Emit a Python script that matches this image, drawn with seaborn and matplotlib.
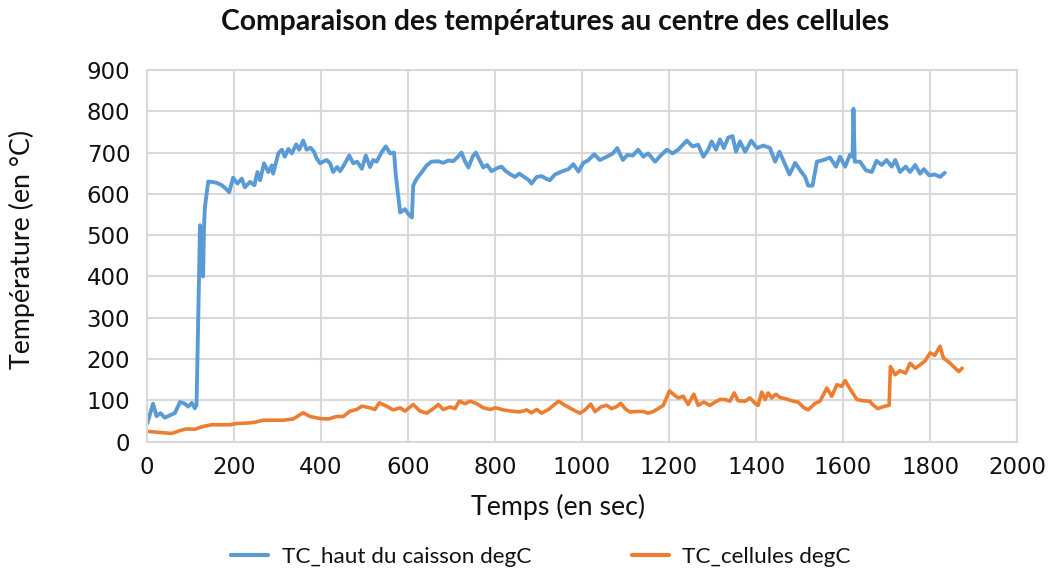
import matplotlib
matplotlib.use("Agg")
import matplotlib.pyplot as plt
import seaborn as sns

# Temps (s) et températures (°C) relevés au thermocouple du haut du caisson
haut_t = [1, 14, 22, 31, 41, 57, 64, 76, 87, 95, 103, 110, 114, 122, 125, 129, 131,
          133, 137, 141, 149, 160, 172, 182, 189, 198, 208, 218, 225, 237, 247, 254,
          260, 269, 279, 287, 290, 302, 310, 317, 325, 333, 343, 350, 359, 367, 376,
          384, 390, 398, 405, 413, 421, 428, 437, 444, 453, 465, 474, 483, 494, 503,
          513, 520, 528, 540, 549, 559, 568, 572, 582, 593, 601, 609, 612, 620, 632,
          643, 654, 670, 681, 693, 704, 713, 723, 731, 739, 749, 756, 764, 773, 782,
          792, 804, 815, 825, 836, 846, 856, 867, 878, 884, 896, 907, 917, 926, 938,
          953, 969, 980, 992, 1003, 1014, 1028, 1041, 1057, 1071, 1081, 1094, 1104,
          1117, 1129, 1141, 1152, 1168, 1181, 1195, 1208, 1221, 1241, 1254, 1267,
          1279, 1290, 1298, 1308, 1317, 1326, 1336, 1346, 1354, 1363, 1375, 1389,
          1402, 1417, 1432, 1444, 1454, 1464, 1477, 1490, 1501, 1513, 1520, 1530,
          1540, 1555, 1570, 1584, 1593, 1605, 1616, 1622, 1624, 1627, 1639, 1653,
          1666, 1677, 1689, 1700, 1712, 1720, 1731, 1744, 1754, 1766, 1777, 1786,
          1798, 1811, 1823, 1834]
haut_v = [45, 92, 62, 69, 58, 66, 69, 96, 92, 85, 94, 81, 90, 524, 500, 400, 515,
          565, 600, 630, 629, 627, 621, 612, 604, 639, 625, 637, 616, 629, 621, 653,
          633, 674, 653, 669, 649, 698, 707, 690, 709, 698, 720, 707, 729, 707, 712,
          702, 686, 674, 678, 682, 674, 653, 665, 655, 670, 693, 674, 678, 661, 693,
          665, 682, 678, 702, 715, 698, 700, 645, 555, 563, 551, 543, 620, 637, 653,
          669, 678, 679, 675, 681, 679, 688, 700, 679, 664, 691, 700, 683, 664, 670,
          655, 662, 666, 655, 647, 641, 649, 641, 633, 625, 641, 643, 637, 633, 647,
          654, 660, 672, 654, 675, 681, 696, 682, 690, 698, 711, 682, 694,
          693, 707, 690, 698, 678, 693, 707, 698, 707, 729, 715, 719,
          690, 707, 727, 707, 732, 711, 736, 740, 702, 727, 702, 729,
          711, 717, 711, 678, 702, 678, 647, 675, 658, 641, 620, 620,
          678, 682, 688, 666, 690, 666, 695, 690, 806, 678, 678, 657,
          653, 680, 670, 682, 666, 682, 653, 666, 653, 670, 649, 660,
          645, 647, 641, 651]

# Température au centre des cellules
cell_t = [1, 22, 45, 57, 76, 91, 110, 129, 149, 172, 191, 206, 229, 248, 267, 290,
          313, 336, 359, 375, 398, 417, 436, 451, 467, 482, 494, 513, 524, 534, 551,
          566, 582, 593, 612, 628, 643, 658, 670, 681, 697, 708, 718, 731, 743, 758,
          773, 789, 802, 819, 838, 857, 873, 884, 896, 907, 923, 946, 961, 980, 995,
          1007, 1020, 1030, 1045, 1057, 1068, 1080, 1089, 1099, 1110, 1126, 1141,
          1152, 1164, 1175, 1187, 1201, 1210, 1221, 1233, 1244, 1257, 1267, 1280,
          1294, 1306, 1317, 1329, 1340, 1350, 1359, 1375, 1386, 1398, 1405, 1413,
          1421, 1428, 1436, 1446, 1455, 1471, 1486, 1497, 1509, 1520, 1536, 1547,
          1563, 1574, 1586, 1597, 1605, 1616, 1632, 1647, 1662, 1668, 1680, 1693,
          1706, 1709, 1720, 1731, 1744, 1754, 1766, 1777, 1789, 1800, 1811, 1823,
          1831, 1842, 1854, 1866, 1874]
cell_v = [25, 23, 21, 20, 27, 31, 30, 37, 41, 41, 41, 44, 45, 47, 52, 52,
          52, 55, 70, 61, 56, 55, 61, 61, 74, 78, 86, 82, 78, 94, 86,
          77, 82, 74, 90, 74, 69, 80, 90, 78, 84, 80, 98, 92, 98, 92,
          82, 78, 82, 77, 74, 72, 77, 70, 78, 69, 78, 98, 88, 77, 69,
          77, 91, 73, 85, 88, 80, 85, 93, 80, 72, 73, 73,
          69, 73, 80, 88, 123, 115, 106, 110, 90, 115, 88, 96,
          88, 96, 102, 102, 98, 118, 99, 98, 106, 93, 88, 120,
          102, 118, 106, 115, 107, 103, 98, 96, 83, 77, 93, 98,
          130, 110, 138, 134, 148, 128, 102, 99, 98, 90, 80, 85,
          88, 182, 162, 172, 166, 190, 178, 186, 196, 215, 209, 231,
          202, 194, 182, 170, 178]

x_ticks = list(range(0, 2001, 200))
y_ticks = list(range(0, 901, 100))

title = "Comparaison des températures au centre des cellules"
label_haut = "TC_haut du caisson degC"
label_cell = "TC_cellules degC"

sns.set_style("whitegrid")
plt.rcParams["font.family"] = ["DejaVu Sans"]

grid_col = "#d9d9d9"
text_col = "#111111"
fig = plt.figure(figsize=(10.55, 5.77), dpi=100)
ax = fig.add_axes([0.1393, 0.2345, 0.8247, 0.6442])

sns.lineplot(x=haut_t, y=haut_v, ax=ax, color="#5B9BD5", linewidth=2.8,
             sort=False, estimator=None, label=label_haut)
sns.lineplot(x=cell_t, y=cell_v, ax=ax, color="#ED7D31", linewidth=2.6,
             sort=False, estimator=None, label=label_cell)

ax.set_xlim(0, 2000)
ax.set_ylim(0, 900)
ax.set_xticks(x_ticks)
ax.set_yticks(y_ticks)
ax.set_xticklabels([str(v) for v in x_ticks])
ax.set_yticklabels([str(v) for v in y_ticks])
ax.tick_params(axis="both", length=0, labelsize=16.5, colors=text_col)
ax.tick_params(axis="y", pad=12)
ax.tick_params(axis="x", pad=10)
ax.grid(True, color=grid_col, linewidth=1.5)
for sp in ax.spines.values():
    sp.set_color(grid_col)
    sp.set_linewidth(1.5)

ax.set_xlabel("Temps (en sec)", fontsize=19.3, family=["Lato", "DejaVu Sans"],
              color=text_col)
ax.xaxis.set_label_coords(0.472, -0.176)
ax.xaxis.label.set_va("center")
ax.set_ylabel("Température (en °C)", fontsize=19.3, family=["Lato", "DejaVu Sans"],
              color=text_col)
ax.yaxis.set_label_coords(-0.1437, 0.516)
ax.yaxis.label.set_va("center")
fig.text(0.526, 0.962, title, ha="center", va="center", fontsize=20.3,
         fontweight="bold", family=["Lato", "DejaVu Sans"], color=text_col)

leg = ax.legend(loc="center", bbox_to_anchor=(0.453, -0.31), ncol=2, frameon=False,
                handlelength=1.65, handletextpad=0.58, columnspacing=4.5,
                prop={"family": ["Lato", "DejaVu Sans"], "size": 16.2})
for h in leg.get_lines():
    h.set_linewidth(3)
for t in leg.get_texts():
    t.set_color(text_col)

fig.savefig("out.png", dpi=100, facecolor="white")
